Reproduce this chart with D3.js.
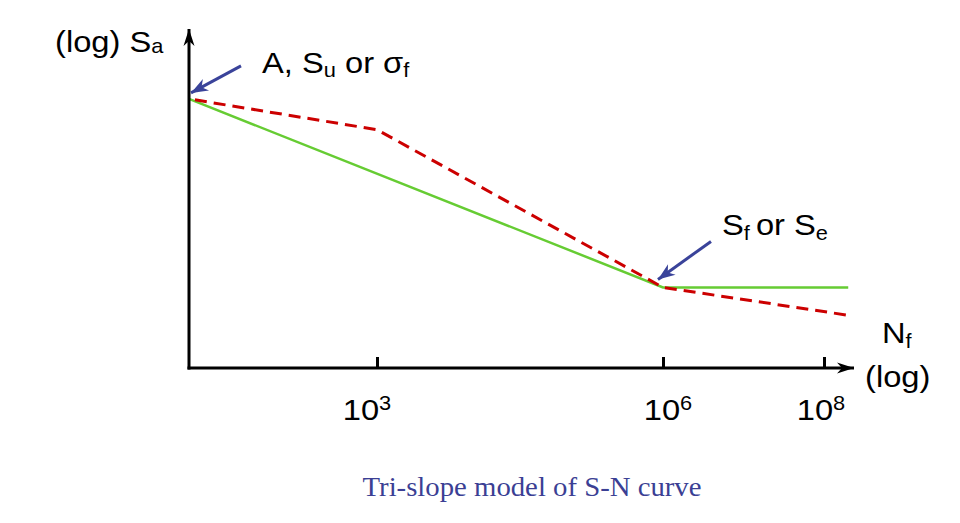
<!DOCTYPE html>
<html>
<head>
<meta charset="utf-8">
<script src="https://cdn.jsdelivr.net/npm/d3@7"></script>
<style>
  body { margin: 0; background: #fff; }
  svg { display: block; }
  .lbl { font-family: "Liberation Sans", Arial, sans-serif; font-size: 30px; fill: #000; }
  .caption { font-family: "Liberation Serif", "Times New Roman", serif; font-size: 27px; fill: #3b3f94; }
</style>
</head>
<body>
<script>
(function(){

//data: schematic S-N curves (cycles, stress amplitude)
var basCycles = [1, 1e6, 2e8];          //basquin + endurance limit
var basStress = [1500, 225, 225];
var triCycles = [1, 1e3, 1e6, 2e8];     //tri-slope model
var triStress = [1500, 1100, 225, 170];
var tickExps = [3, 6, 8];               //x axis tick exponents
var tickBase = "10";

var width = 960, height = 523;

var svg = d3.select("body").append("svg")
    .attr("width", width)
    .attr("height", height);

//schematic log axis (decades are not evenly spaced in the drawing)
var xExp = d3.scaleLinear()
    .domain([0, 3, 6, 8])
    .range([189, 377, 663, 824]);
var x = function(n){ return xExp(Math.log10(n)); };

var y = d3.scaleLog()
    .domain([100, 3000])
    .range([368, 30]);

var origin = [189, 368];

//arrow markers
var defs = svg.append("defs");
defs.append("marker")
    .attr("id", "axisHead")
    .attr("markerUnits", "userSpaceOnUse")
    .attr("viewBox", "-18 -7 20 14")
    .attr("refX", 0).attr("refY", 0)
    .attr("markerWidth", 20).attr("markerHeight", 14)
    .attr("orient", "auto")
  .append("path")
    .attr("d", "M0,0 L-17,-5.5 L-12,0 L-17,5.5 Z")
    .attr("fill", "#000");

defs.append("marker")
    .attr("id", "blueHead")
    .attr("markerUnits", "userSpaceOnUse")
    .attr("viewBox", "-18 -8 20 16")
    .attr("refX", 0).attr("refY", 0)
    .attr("markerWidth", 20).attr("markerHeight", 16)
    .attr("orient", "auto")
  .append("path")
    .attr("d", "M0,0 L-17,-6.5 L-12,0 L-17,6.5 Z")
    .attr("fill", "#3a439a");

//curves
var line = d3.line()
    .x(function(d){ return x(d[0]); })
    .y(function(d){ return y(d[1]); });

svg.append("path")
    .datum(d3.zip(basCycles, basStress))
    .attr("d", line)
    .attr("fill", "none")
    .attr("stroke", "#66cc33")
    .attr("stroke-width", 2.5);

svg.append("path")
    .datum(d3.zip(triCycles, triStress))
    .attr("d", line)
    .attr("fill", "none")
    .attr("stroke", "#cc0000")
    .attr("stroke-width", 3)
    .attr("stroke-dasharray", "12,7")
    .attr("stroke-dashoffset", -6);

//axes
svg.append("line")
    .attr("x1", origin[0]).attr("y1", origin[1] + 1.5)
    .attr("x2", origin[0]).attr("y2", 29)
    .attr("stroke", "#000").attr("stroke-width", 3)
    .attr("marker-end", "url(#axisHead)");

svg.append("line")
    .attr("x1", origin[0] - 1.5).attr("y1", origin[1])
    .attr("x2", 854).attr("y2", origin[1])
    .attr("stroke", "#000").attr("stroke-width", 3)
    .attr("marker-end", "url(#axisHead)");

var xAxis = d3.axisBottom(xExp)
    .tickValues(tickExps)
    .tickSize(-11)
    .tickFormat("");

var axisG = svg.append("g")
    .attr("transform", "translate(0," + origin[1] + ")")
    .call(xAxis);
axisG.select(".domain").remove();
axisG.selectAll(".tick line")
    .attr("stroke", "#000")
    .attr("stroke-width", 3);

//text labels, stretched horizontally like the source slide
function label(lx, ly, parts, sx, anchor){
    var g = svg.append("g")
        .attr("transform", "translate(" + lx + "," + ly + ") scale(" + sx + ",1)");
    var t = g.append("text")
        .attr("class", "lbl")
        .attr("text-anchor", anchor || "start");
    var shift = 0;
    parts.forEach(function(p){
        var want = p[2] != null ? p[2] : (p[1] == "sub" ? 4 : (p[1] == "sup" ? -10 : 0));
        var ts = t.append("tspan")
            .attr("dy", want - shift)
            .text(p[0]);
        if (p[1]) ts.style("font-size", "20px");
        shift = want;
    });
    return t;
}

//tick labels as 10 with superscript exponent
var nudge = {3: -10, 6: 5, 8: -3};
tickExps.forEach(function(e){
    label(xExp(e) + nudge[e], 420, [[tickBase], [String(e), "sup"]], 1.09, "middle");
});

label(55, 52, [["(log) S"], ["a", "sub", 1]], 1.09);
label(262, 73, [["A, S"], ["u", "sub"], [" or \u03c3"], ["f", "sub"]], 1.09);
label(722, 235, [["S"], ["f ", "sub", 5], ["or S"], ["e", "sub", 5]], 1.09);
label(882, 343, [["N"], ["f", "sub", 5]], 1.09);
label(865, 387, [["(log)"]], 1.09);

//annotation arrows pointing at the curve corners
var notes = [
    {pt: [basCycles[0], basStress[0]], tip: [2, -6], tail: [52, -33]},
    {pt: [basCycles[1], basStress[1]], tip: [-5, -8], tail: [48, -46]}
];
notes.forEach(function(n){
    var px = x(n.pt[0]), py = y(n.pt[1]);
    svg.append("line")
        .attr("x1", px + n.tail[0]).attr("y1", py + n.tail[1])
        .attr("x2", px + n.tip[0]).attr("y2", py + n.tip[1])
        .attr("stroke", "#3a439a")
        .attr("stroke-width", 3)
        .attr("marker-end", "url(#blueHead)");
});

//caption
svg.append("g")
    .attr("transform", "translate(532,496) scale(1.065,1)")
  .append("text")
    .attr("class", "caption")
    .attr("text-anchor", "middle")
    .text("Tri-slope model of S-N curve");

})();
</script>
</body>
</html>
